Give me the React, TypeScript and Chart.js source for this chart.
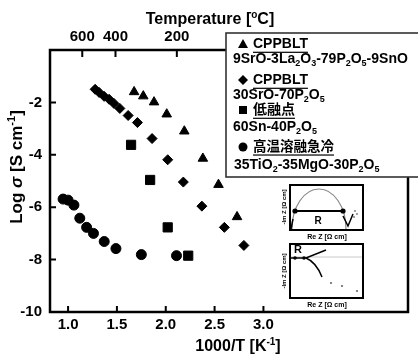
import React, { useEffect, useRef } from 'react';
import { Chart, registerables } from 'chart.js';

Chart.register(...registerables);

// ---- data ----
const triX = [1.676, 1.77, 1.88, 2.01, 2.19, 2.38, 2.54, 2.73];
const triY = [-1.6, -1.76, -1.99, -2.45, -3.1, -4.14, -5.14, -6.37];

const diaX = [1.277, 1.318, 1.369, 1.42, 1.47, 1.53, 1.615, 1.71, 1.86, 2.02, 2.18, 2.37, 2.6, 2.8];
const diaY = [-1.5, -1.62, -1.77, -1.88, -2.04, -2.23, -2.5, -2.77, -3.38, -4.19, -5.04, -5.96, -6.77, -7.46];

const sqX = [1.645, 1.84, 2.02, 2.23];
const sqY = [-3.62, -4.96, -6.77, -7.85];

const cirX = [0.949, 1.0, 1.06, 1.12, 1.19, 1.26, 1.37, 1.49, 1.75, 2.11];
const cirY = [-5.69, -5.73, -5.92, -6.42, -6.77, -7.0, -7.31, -7.58, -7.81, -7.85];

const xTicks = [1.0, 1.5, 2.0, 2.5, 3.0];
const yTicks = [-10, -8, -6, -4, -2];
const tempTicks = [600, 400, 200];

const X_MIN = 0.815;
const X_MAX = 4.48;
const Y_MIN = -10;
const Y_MAX = 0;

const FONT = '"Liberation Sans", Arial, "Noto Sans CJK JP", sans-serif';

type Seg = [string, string];

function pts(xs: number[], ys: number[]) {
  return xs.map((x, i) => ({ x, y: ys[i] }));
}

function segFont(k: string, size: number) {
  const s = k === 'sub' || k === 'sup' ? Math.round(size * 0.62) : size;
  const st = k === 'i' ? 'italic ' : '';
  return `${st}bold ${s}px ${FONT}`;
}

function richWidth(ctx: CanvasRenderingContext2D, segs: Seg[], size: number) {
  let w = 0;
  for (const [t, k] of segs) {
    ctx.font = segFont(k, size);
    w += ctx.measureText(t).width;
  }
  return w;
}

function drawRich(ctx: CanvasRenderingContext2D, x: number, y: number, segs: Seg[], size: number, align = 'left') {
  ctx.textBaseline = 'middle';
  ctx.textAlign = 'left';
  let cx = align === 'center' ? x - richWidth(ctx, segs, size) / 2 : x;
  for (const [t, k] of segs) {
    ctx.font = segFont(k, size);
    const dy = k === 'sub' ? size * 0.32 : k === 'sup' ? -size * 0.3 : 0;
    ctx.fillText(t, cx, y + dy);
    const w = ctx.measureText(t).width;
    if (k === 'u') ctx.fillRect(cx, y + size * 0.55, w, 1.2);
    cx += w;
  }
}

function dot(ctx: CanvasRenderingContext2D, x: number, y: number, r: number) {
  ctx.beginPath();
  ctx.arc(x, y, r, 0, Math.PI * 2);
  ctx.fill();
}

const framePlugin = {
  id: 'frameAndDecor',
  afterDraw(chart: any) {
    const ctx: CanvasRenderingContext2D = chart.ctx;
    const { left, right, top, bottom } = chart.chartArea;
    const sx = chart.scales.x;
    const sy = chart.scales.y;
    ctx.save();
    ctx.fillStyle = '#000';
    ctx.strokeStyle = '#000';
    // frame
    ctx.lineWidth = 2.5;
    ctx.strokeRect(left, top, right - left, bottom - top);
    // inward ticks
    ctx.lineWidth = 2;
    ctx.beginPath();
    for (const v of xTicks) {
      const px = sx.getPixelForValue(v);
      ctx.moveTo(px, bottom);
      ctx.lineTo(px, bottom - 6);
    }
    for (const t of tempTicks) {
      const px = sx.getPixelForValue(1000 / (t + 273.15));
      ctx.moveTo(px, top);
      ctx.lineTo(px, top + 7);
    }
    for (const v of yTicks) {
      if (v === Y_MIN) continue;
      const py = sy.getPixelForValue(v);
      ctx.moveTo(left, py);
      ctx.lineTo(left + 6, py);
    }
    ctx.stroke();

    // axis titles
    ctx.fillStyle = '#000';
    drawRich(ctx, left + 160, top - 30, [['Temperature [', 'n'], ['o', 'sup'], ['C]', 'n']], 16, 'center');
    drawRich(ctx, left + 188, bottom + 35, [['1000/T [K', 'n'], ['-1', 'sup'], [']', 'n']], 16, 'center');
    ctx.save();
    ctx.translate(left - 33, top + 117);
    ctx.rotate(-Math.PI / 2);
    drawRich(ctx, 0, 0, [['Log ', 'n'], ['σ', 'i'], [' [S cm', 'n'], ['-1', 'sup'], [']', 'n']], 17, 'center');
    ctx.restore();

    // legend box
    const lx = left + 176;
    const ly = top - 17;
    ctx.fillStyle = '#fff';
    ctx.fillRect(lx, ly, 220, 144);
    ctx.strokeStyle = '#333';
    ctx.lineWidth = 1.6;
    ctx.strokeRect(lx, ly, 220, 144);
    ctx.fillStyle = '#000';
    const mx = lx + 17;
    const tx = lx + 27;
    const fx = lx + 7;
    // triangle
    ctx.beginPath();
    ctx.moveTo(mx, ly + 6);
    ctx.lineTo(mx + 5, ly + 15);
    ctx.lineTo(mx - 5, ly + 15);
    ctx.closePath();
    ctx.fill();
    drawRich(ctx, tx, ly + 11, [['CPPBLT', 'u']], 14);
    drawRich(ctx, fx, ly + 26, [['9SrO-3La', 'n'], ['2', 'sub'], ['O', 'n'], ['3', 'sub'], ['-79P', 'n'], ['2', 'sub'], ['O', 'n'], ['5', 'sub'], ['-9SnO', 'n']], 14);
    // diamond
    ctx.beginPath();
    ctx.moveTo(mx, ly + 42);
    ctx.lineTo(mx + 5, ly + 47);
    ctx.lineTo(mx, ly + 52);
    ctx.lineTo(mx - 5, ly + 47);
    ctx.closePath();
    ctx.fill();
    drawRich(ctx, tx, ly + 47, [['CPPBLT', 'u']], 14);
    drawRich(ctx, fx, ly + 62, [['30SrO-70P', 'n'], ['2', 'sub'], ['O', 'n'], ['5', 'sub']], 14);
    // square
    ctx.fillRect(mx - 4, ly + 73, 8, 8);
    drawRich(ctx, tx, ly + 77, [['低融点', 'u']], 14);
    drawRich(ctx, fx, ly + 94, [['60Sn-40P', 'n'], ['2', 'sub'], ['O', 'n'], ['5', 'sub']], 14);
    // circle
    dot(ctx, mx, ly + 114, 4.5);
    drawRich(ctx, tx, ly + 114, [['高温溶融急冷', 'u']], 13.5);
    drawRich(ctx, fx + 1, ly + 132, [['35TiO', 'n'], ['2', 'sub'], ['-35MgO-30P', 'n'], ['2', 'sub'], ['O', 'n'], ['5', 'sub']], 14);

    // ---- impedance insets (schematic) ----
    const ix = left + 240;
    const i1 = top + 135;
    ctx.strokeStyle = '#000';
    ctx.lineWidth = 2;
    ctx.strokeRect(ix, i1, 73, 45);
    ctx.strokeStyle = '#888';
    ctx.lineWidth = 1.2;
    ctx.beginPath();
    ctx.ellipse(ix + 29, i1 + 44, 27, 40, 0, Math.PI, 2 * Math.PI);
    ctx.stroke();
    ctx.strokeStyle = '#000';
    ctx.lineWidth = 2;
    ctx.beginPath();
    ctx.moveTo(ix + 5, i1 + 26);
    ctx.lineTo(ix + 53, i1 + 26);
    ctx.stroke();
    ctx.fillStyle = '#000';
    dot(ctx, ix + 5, i1 + 26, 2.6);
    dot(ctx, ix + 53, i1 + 26, 2.6);
    ctx.lineWidth = 1.5;
    ctx.beginPath();
    ctx.moveTo(ix + 1, i1 + 44);
    ctx.lineTo(ix + 3, i1 + 34);
    ctx.moveTo(ix + 53, i1 + 31);
    ctx.lineTo(ix + 58, i1 + 41);
    ctx.lineTo(ix + 63, i1 + 29);
    ctx.stroke();
    ctx.fillStyle = '#777';
    dot(ctx, ix + 65, i1 + 26, 0.9);
    dot(ctx, ix + 67, i1 + 29, 0.9);
    dot(ctx, ix + 64, i1 + 32, 0.9);
    ctx.fillStyle = '#000';
    ctx.font = `bold 10px ${FONT}`;
    ctx.textAlign = 'center';
    ctx.textBaseline = 'middle';
    ctx.fillText('R', ix + 28, i1 + 36);
    ctx.font = `bold 7px ${FONT}`;
    ctx.fillText('Re Z [Ω cm]', ix + 37, i1 + 52);

    const i2 = top + 194;
    ctx.lineWidth = 2;
    ctx.strokeRect(ix, i2, 73, 54);
    ctx.strokeStyle = '#bbb';
    ctx.lineWidth = 0.8;
    ctx.beginPath();
    ctx.moveTo(ix + 1, i2 + 13);
    ctx.lineTo(ix + 72, i2 + 13);
    ctx.stroke();
    ctx.strokeStyle = '#000';
    ctx.lineWidth = 1.5;
    ctx.beginPath();
    ctx.moveTo(ix, i2 + 14);
    ctx.lineTo(ix + 16, i2 + 14);
    ctx.lineTo(ix + 36, i2 + 6);
    ctx.moveTo(ix + 16, i2 + 14);
    ctx.quadraticCurveTo(ix + 26, i2 + 18, ix + 32, i2 + 33);
    ctx.stroke();
    dot(ctx, ix + 5, i2 + 14, 1.8);
    dot(ctx, ix + 14, i2 + 14, 1.8);
    ctx.fillStyle = '#666';
    dot(ctx, ix + 41, i2 + 39, 1.1);
    dot(ctx, ix + 52, i2 + 42, 1.1);
    dot(ctx, ix + 67, i2 + 47, 1.1);
    ctx.fillStyle = '#000';
    ctx.font = `bold 11px ${FONT}`;
    ctx.fillText('R', ix + 8, i2 + 6);
    ctx.font = `bold 7px ${FONT}`;
    ctx.fillText('Re Z [Ω cm]', ix + 37, i2 + 61);

    ctx.font = `bold 6px ${FONT}`;
    for (const cy of [i1 + 22, i2 + 27]) {
      ctx.save();
      ctx.translate(ix - 6, cy);
      ctx.rotate(-Math.PI / 2);
      ctx.fillText('-Im Z [Ω cm]', 0, 0);
      ctx.restore();
    }
    ctx.restore();
  },
};

export default function App() {
  const ref = useRef<HTMLCanvasElement>(null);
  useEffect(() => {
    document.body.style.margin = '0';
    const canvas = ref.current!;
    const tickFont = { family: FONT, size: 15, weight: 'bold' as const };
    const chart = new Chart(canvas, {
      type: 'scatter',
      data: {
        datasets: [
          { label: 'tri', data: pts(triX, triY), pointStyle: 'triangle', pointRadius: 5.5, backgroundColor: '#000', borderColor: '#000', borderWidth: 1 },
          { label: 'dia', data: pts(diaX, diaY), pointStyle: 'rectRot', pointRadius: 5, backgroundColor: '#000', borderColor: '#000', borderWidth: 1 },
          { label: 'sq', data: pts(sqX, sqY), pointStyle: 'rect', pointRadius: 6.5, backgroundColor: '#000', borderColor: '#000', borderWidth: 1 },
          { label: 'cir', data: pts(cirX, cirY), pointStyle: 'circle', pointRadius: 5, backgroundColor: '#000', borderColor: '#000', borderWidth: 1 },
        ],
      },
      options: {
        responsive: false,
        animation: false,
        layout: { padding: { left: 0, right: 10, top: 0, bottom: 0 } },
        plugins: { legend: { display: false }, tooltip: { enabled: false } },
        scales: {
          x: {
            type: 'linear',
            position: 'bottom',
            min: X_MIN,
            max: X_MAX,
            afterBuildTicks: (s: any) => { s.ticks = xTicks.map((v) => ({ value: v })); },
            afterFit: (s: any) => { s.height = 47; },
            ticks: { font: tickFont, color: '#000', padding: 4, maxRotation: 0, callback: (v: any) => Number(v).toFixed(1) },
            grid: { display: false, drawTicks: false },
            border: { display: false },
          },
          x2: {
            type: 'linear',
            position: 'top',
            min: X_MIN,
            max: X_MAX,
            afterBuildTicks: (s: any) => { s.ticks = tempTicks.map((t) => ({ value: 1000 / (t + 273.15) })); },
            afterFit: (s: any) => { s.height = 50; },
            ticks: { font: tickFont, color: '#000', padding: 4, maxRotation: 0, callback: (v: any) => String(Math.round(1000 / Number(v) - 273.15)) },
            grid: { display: false, drawTicks: false },
            border: { display: false },
          },
          y: {
            type: 'linear',
            min: Y_MIN,
            max: Y_MAX,
            afterBuildTicks: (s: any) => { s.ticks = yTicks.map((v) => ({ value: v })); },
            afterFit: (s: any) => { s.width = 50; },
            ticks: { font: tickFont, color: '#000', padding: 8, callback: (v: any) => String(v) },
            grid: { display: false, drawTicks: false },
            border: { display: false },
          },
        },
      },
      plugins: [framePlugin],
    });
    return () => chart.destroy();
  }, []);
  return <canvas ref={ref} width={418} height={359} style={{ display: 'block', width: 418, height: 359 }} />;
}
